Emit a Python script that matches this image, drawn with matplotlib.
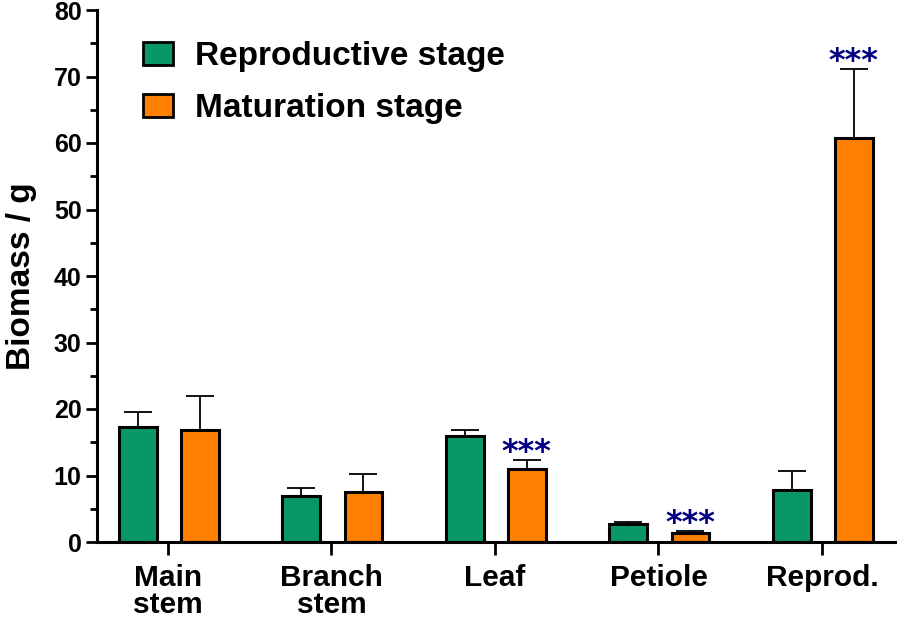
import numpy as np
import matplotlib
matplotlib.use("Agg")
import matplotlib.pyplot as plt
from matplotlib.patches import Patch
from matplotlib.ticker import MultipleLocator

plt.rcParams['font.family'] = ['Liberation Sans', 'DejaVu Sans']
plt.rcParams['font.weight'] = 'bold'

# data
categories = ["Main\nstem", "Branch\nstem", "Leaf", "Petiole", "Reprod."]
repro_mean = [17.3, 6.9, 15.9, 2.7, 7.8]
repro_err = [2.2, 1.2, 0.9, 0.3, 2.9]
matur_mean = [16.8, 7.5, 11.0, 1.35, 60.8]
matur_err = [5.1, 2.7, 1.3, 0.3, 10.4]
matur_sig = ["", "", "***", "***", "***"]

green = "#089865"
orange = "#ff8000"

fig = plt.figure(figsize=(8.97, 6.2), dpi=100)
ax = fig.add_axes([97 / 897, 78 / 620, 800 / 897, 532 / 620])

x = np.arange(len(categories))
w = 0.23
off_g, off_o = -0.185, 0.195

ax.bar(x + off_g, repro_mean, w, color=green, edgecolor="black", linewidth=2.2,
       yerr=[np.zeros(len(x)), repro_err], error_kw=dict(elinewidth=1.3, capsize=10, capthick=1.3, ecolor="black"),
       zorder=3)
ax.bar(x + off_o, matur_mean, w, color=orange, edgecolor="black", linewidth=2.2,
       yerr=[np.zeros(len(x)), matur_err], error_kw=dict(elinewidth=1.3, capsize=10, capthick=1.3, ecolor="black"),
       zorder=3)

# significance stars above the maturation bars
for xi, m, e, s in zip(x, matur_mean, matur_err, matur_sig):
    if s:
        ax.text(xi + off_o, m + e + 1.1, s, ha="center", va="center", color="#000080",
                fontsize=23, fontweight="bold", family="DejaVu Sans")

ax.set_xlim(-0.434, 4.459)
ax.set_ylim(0, 80)
ax.yaxis.set_major_locator(MultipleLocator(10))
ax.yaxis.set_minor_locator(MultipleLocator(5))
ax.set_xticks(x)
ax.set_xticklabels(categories, fontsize=21.5, fontweight="bold", linespacing=0.95)
ax.tick_params(axis="y", which="major", length=8, width=2, labelsize=18, pad=3)
ax.tick_params(axis="y", which="minor", length=5, width=2)
ax.tick_params(axis="x", length=9, width=2, pad=7)
for lab in ax.get_yticklabels():
    lab.set_fontweight("bold")

for sp in ["top", "right"]:
    ax.spines[sp].set_visible(False)
for sp in ["left", "bottom"]:
    ax.spines[sp].set_linewidth(2.2)
ax.spines["bottom"].set_zorder(4)

ax.set_ylabel("Biomass / g", fontsize=24, fontweight="bold", labelpad=12)

handles = [Patch(facecolor=green, edgecolor="black", linewidth=2),
           Patch(facecolor=orange, edgecolor="black", linewidth=2)]
ax.legend(handles, ["Reproductive stage", "Maturation stage"], loc="upper left",
          bbox_to_anchor=(0.041, 0.966), frameon=False, prop=dict(size=24, weight="bold"),
          handlelength=0.9, handleheight=0.7, handletextpad=0.65, labelspacing=0.62,
          borderaxespad=0)

fig.savefig("out.png", dpi=100)
